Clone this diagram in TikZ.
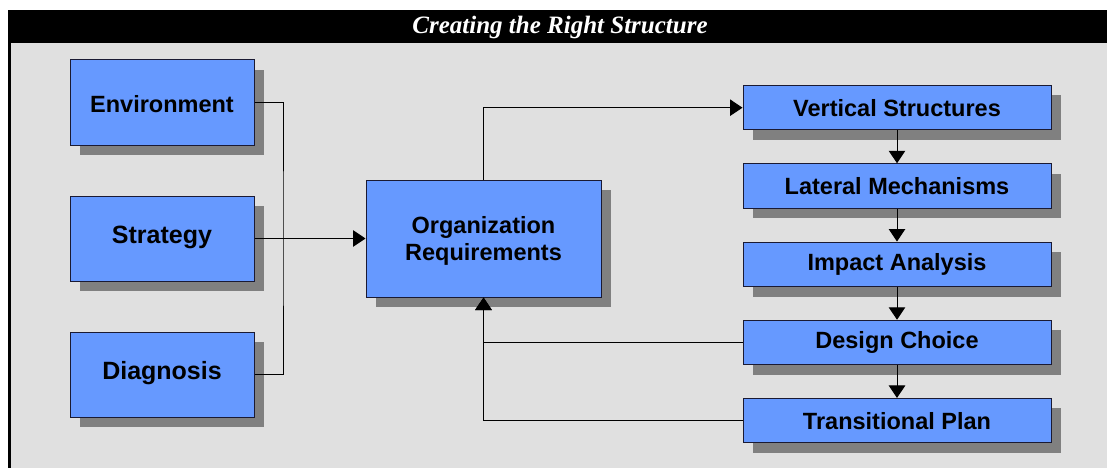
\documentclass[tikz,border=0pt]{standalone}
\usepackage{fontspec}
\setmainfont{Liberation Sans}
\newfontfamily\titlefont{Liberation Serif}
\usetikzlibrary{arrows.meta,shadows}
\definecolor{boxblue}{HTML}{6699FF}
\definecolor{shadowgray}{HTML}{808080}
\definecolor{bggray}{HTML}{E0E0E0}
\definecolor{boxline}{HTML}{1A1A33}
\newcommand{\shiftup}[2]{\raisebox{#1}[\height][\depth]{#2}}
\begin{document}
\begin{tikzpicture}[x=1pt,y=-1pt,
  blockbox/.style={draw=boxline, line width=1pt, fill=boxblue, inner sep=0pt,
    align=center, font=\fontsize{23.5}{28}\selectfont\bfseries,
    drop shadow={shadow xshift=10pt, shadow yshift=-10pt, fill=shadowgray, opacity=1, draw=none}},
  leftbox/.style={blockbox, minimum width=184pt, minimum height=85pt},
  bigfont/.style={font=\fontsize{25}{30}\selectfont\bfseries},
  rightbox/.style={blockbox, minimum width=308pt, minimum height=44.5pt},
  conn/.style={line width=1pt, draw=black},
  arr/.style={conn, -{Triangle[length=12.5pt,width=16.5pt]}}
]
\useasboundingbox (0,0) rectangle (1107,468);
\fill[white] (0,0) rectangle (1107,468);
\fill[bggray] (8,43) rectangle (1107,468);
\fill[black] (8,10) rectangle (1107,43);
\draw[line width=2.5pt] (9.5,43) -- (9.5,468);
\node[text=white, anchor=base, font=\titlefont\fontsize{25}{30}\selectfont\bfseries\itshape] (title) at (560,33.5) {Creating the Right Structure};

\node[leftbox] (env) at (162,102.5) {\shiftup{-1.5pt}{Environment}};
\node[leftbox, bigfont] (strat) at (162,238.5) {\shiftup{1.5pt}{Strategy}};
\node[leftbox, bigfont] (diag) at (162,374.5) {\shiftup{1.5pt}{Diagnosis}};
\node[blockbox, minimum width=235pt, minimum height=117pt] (org) at (483.5,238.5) {\shiftup{-3pt}{\begin{tabular}{@{}c@{}}Organization\\[-0.5pt]Requirements\end{tabular}}};

\node[rightbox] (vs) at (897,107.7) {Vertical Structures};
\node[rightbox] (lm) at (897,186) {Lateral Mechanisms};
\node[rightbox] (ia) at (897,264.3) {Impact Analysis};
\node[rightbox] (dc) at (897,342.5) {Design Choice};
\node[rightbox] (tp) at (897,420.7) {Transitional Plan};

\coordinate (j) at (283,238.5);
\draw[conn] (env.east) -| (j) |- (diag.east);
\draw[arr] (strat.east) -- (org.west);
\draw[arr] (org.north) |- (vs.west);
\draw[arr] (vs.south) -- (lm.north);
\draw[arr] (lm.south) -- (ia.north);
\draw[arr] (ia.south) -- (dc.north);
\draw[arr] (dc.south) -- (tp.north);
\draw[arr] (dc.west) -| (org.south);
\draw[arr] (tp.west) -| (org.south);
\end{tikzpicture}
\end{document}
